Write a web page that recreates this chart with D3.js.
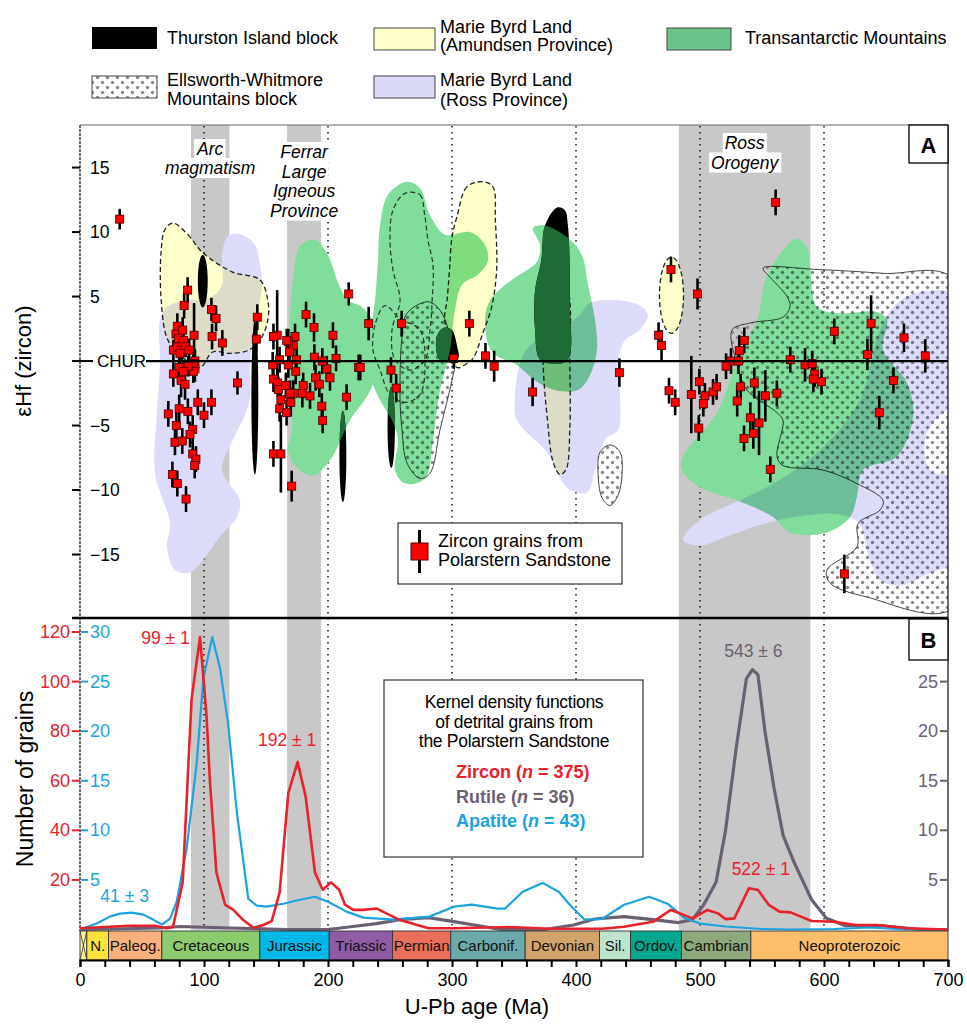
<!DOCTYPE html>
<html>
<head>
<meta charset="utf-8">
<script src="https://cdn.jsdelivr.net/npm/d3@7"></script>
<style>
  body { margin: 0; background: #fff; }
  svg { font-family: "Liberation Sans", Arial, sans-serif; }
</style>
</head>
<body>
<div id="chart"></div>
<script>
// ---- data ----
// zircon Hf points: [U-Pb age (Ma), eHf, error]
const zirconHf = [
  [32,11.0,0.8],
  [86.8,5.5,1.0],[84,4.3,1.0],[106,4.0,0.9],[109.7,3.3,1.0],[106.5,1.9,1.0],[114.8,1.4,1.0],
  [78.5,2.7,1.0],[77.4,2.1,0.9],[82.8,2.4,1.0],[92,2.0,2.5],[79.3,1.75,0.9],[83.5,1.6,1.0],
  [75.3,0.85,0.8],[78.5,1.1,0.8],[82,0.85,0.9],[85,1.1,0.8],[88,0.85,0.9],[80.6,0.6,0.8],[92.7,0,0.9],
  [80,-0.5,1.0],[92.7,-0.6,1.0],[91.4,-0.8,0.9],[91.4,-0.2,0.9],[87.3,-0.4,0.8],[83.3,-0.8,0.9],
  [75.3,-1.0,1.0],[81.5,-1.5,1.3],[84.7,-1.8,1.2],[127,-1.7,0.9],
  [95,-3.2,1.0],[106,-3.2,1.0],[100,-4.2,1.0],[71.2,-4.1,1.0],[80,-3.7,1.1],[87,-3.9,1.0],
  [77.7,-5.0,1.0],[90.9,-5.3,1.1],[88.7,-5.7,1.0],[76.6,-6.3,1.0],[82.5,-6.2,1.0],
  [90.9,-7.2,1.0],[93.5,-7.6,1.0],[92.5,-8.1,1.0],[74.5,-8.8,1.0],[78.5,-9.5,1.0],[85.5,-10.7,1.0],
  [143,3.4,1.0],[142.2,1.7,1.0],[182.3,3.6,1.0],[188.7,2.6,1.1],[159,2.0,3.5],[156,1.9,1.0],
  [173.4,1.9,1.0],[172,1.2,1.0],[169,0.7,1.0],[168,1.5,1.0],[166.7,1.6,0.9],[174.7,0.1,1.0],
  [204,2.0,1.0],[216.7,5.2,0.9],
  [156,-1.4,1.0],[159.4,-1.7,1.1],[160,-2.2,1.0],[166,-1.9,1.0],[180,-1.9,1.0],[179.3,-2.5,1.1],
  [172,-2.5,1.0],[169.4,-2.5,1.0],[185.5,-2.7,1.0],[162,-3.0,1.0],[170,-3.2,1.1],[161,-3.7,1.0],[166.6,-4.0,1.0],
  [174,-0.8,1.0],[155.4,-0.3,1.0],[161,0.1,1.0],[168,-0.3,1.0],[190,-1.3,1.0],[193,-1.8,1.0],
  [199,-0.6,1.0],[201.6,-1.3,1.0],[195,-3.5,1.0],[195.7,-4.6,1.0],
  [156,-7.2,1.0],[162,-7.2,3.0],[170.7,-9.7,1.2],[189,0.3,1.0],[195.4,0,1.0],[206.5,0.2,1.0],[215,-2.8,1.0],[224.7,-0.5,1.0],
  [226,-0.5,1.0],[232.8,2.9,1.3],[250.8,-0.7,1.0],[255,-2.1,1.1],[259.4,2.9,1.0],[301.4,0.2,0.8],
  [314,2.9,1.0],[327,0.4,1.0],[334,-0.4,1.2],[365,-2.4,1.1],[435,-0.9,1.1],
  [466.6,2.0,1.0],[469,1.2,1.2],[476.6,7.1,1.0],[475,-2.3,1.0],[480,-3.2,1.0],[498,5.2,1.2],[561,12.3,1.0],
  [535.7,1.6,1.0],[531.7,0.8,1.2],[525,0,1.0],[531,0,1.0],[521,-0.4,1.0],
  [608.3,2.3,1.0],[638,2.9,2.2],[635,0.5,1.2],[664.5,1.8,1.1],[681.7,0.4,1.3],
  [572.8,0.1,1.0],[584.7,-0.3,1.3],[590.5,-0.2,1.0],[592.5,-1.0,1.0],[591.4,-1.4,1.0],[598,-1.6,1.0],
  [493,-2.6,3.0],[499.5,-1.6,1.0],[504,-2.7,1.0],[502.7,-3.3,1.0],[510.5,-2.4,1.0],[513.4,-2.0,1.0],[499,-5.2,1.0],
  [532.8,-2.0,1.0],[530,-3.1,1.2],[543.8,-1.7,1.2],[552.7,-2.7,2.0],[562,-2.5,1.0],[540.6,-4.4,1.2],
  [547.6,-4.8,2.5],[543,-5.6,1.2],[535.5,-6.0,1.0],[556.7,-8.4,1.0],
  [656,-1.5,1.0],[644.6,-4.0,1.3],[616.4,-16.5,1.5]
];

// source-field outlines [age, eHf]
const amundsenBlobs = [
  [[75,10.7],[87,9.8],[99,8.4],[123,6.9],[145,6.3],[151.5,4.7],[151.5,3.2],[145,1.6],[135,0.8],[121,0.6],[107,0.7],[97,-0.5],[85,0.1],[71,1.6],[65.5,4.7],[65.5,8.6],[68.5,10.2]],
  [[325,13.9],[312,13.5],[304,11.2],[300,9.6],[298,7.1],[296,4.7],[294,3.2],[300,1.2],[304,-0.5],[312,-0.2],[317,0.2],[325,2.2],[332,4.2],[336,7.1],[335,10.9],[333,13.5]],
  [[375,5.5],[373.4,0.1],[377,-4.6],[381.5,-7.8],[387,-8.8],[392,-8.4],[395,-5.3],[395,0],[393.5,5.5],[384,7]]
];
const amundsenEllipses = [[477,5.1,9.7,2.95]];
const amundsenOutlines = [
  [[262,13.0],[274,12.9],[278,11.3],[280.6,9.4],[284.7,7.4],[284,4.7],[282.3,2.4],[278.2,0.1],[266.1,-0.7],[254,0.1],[251.6,2.4],[258.1,4.7],[252.4,7.05],[250,9.4],[252.4,11.7]],
  [[246,4.3],[258,3.3],[274.2,2.4],[278.2,0.1],[274.2,-2.6],[262.1,-3.2],[250,-2.6],[242,-0.7],[236.3,0.85],[237.9,2.8]]
];
const rossBlobs = [
  [[119.4,9.7],[130.6,9.8],[141.1,9.0],[145.2,7.4],[146.8,5.9],[143.5,3.95],[138.7,1.6],[137.1,-0.7],[137.1,-2.8],[133.1,-4.2],[123.4,-6.1],[114.5,-8.45],[129,-10.8],[126.6,-12.1],[112.9,-13.6],[96.8,-15.7],[88.7,-16.4],[76.6,-16.2],[70.2,-14.4],[72.6,-12.6],[60.5,-8.7],[62.1,-4.0],[64.5,-0.2],[64.5,3.2],[70.2,4.2],[84.7,4.7],[104.8,4.9],[114.5,5.9],[114.5,8.2]],
  [[411.3,4.5],[435.5,4.7],[451.6,4.3],[458,3.6],[451.6,2.4],[439.5,1.6],[433.9,0.1],[435.5,-2.8],[433.9,-5.35],[423.4,-6.1],[415.3,-8.45],[408.9,-10.2],[392.7,-9.8],[376.6,-7.1],[352.4,-4.6],[350.8,-2.8],[354.8,-0.2],[362.9,1.2],[387.1,2.4],[403.2,3.6]],
  [[486.3,-13.9],[500,-12.3],[532.3,-10.8],[564.5,-9.2],[596.8,-6.9],[629,-3.0],[645.2,2.4],[661.3,4.7],[689.5,5.5],[705,5.1],[705,-3.0],[689.5,-4.6],[681.5,-6.1],[685.5,-8.45],[705,-9.2],[705,-15.4],[681.5,-16.6],[661.3,-17.4],[645.2,-17.0],[635.5,-15.0],[629,-12.7],[612.9,-11.9],[564.5,-12.3],[524.2,-13.5],[500,-14.3]]
];
const tamBlobs = [
  [[177.4,8.9],[189.5,9.4],[200,8.2],[208,6.1],[216.1,4.7],[225.8,4.3],[235.5,3.3],[241.9,1.6],[240.3,-0.7],[232.3,-2.6],[217.7,-4.6],[201.6,-7.7],[187.1,-8.9],[173.4,-8.1],[167.7,-6.9],[171,-5.35],[169.4,-1.5],[169.4,3.2],[171.8,6.3]],
  [[263.7,13.9],[274.2,13.4],[282.3,11.3],[294.4,9.8],[314.5,10],[326.6,9.0],[329,7.8],[321,6.7],[308,5.9],[302.4,3.95],[298.4,0.85],[290.3,-2.25],[284.7,-6.1],[278.2,-9.1],[262.1,-9.5],[254,-8.45],[256.5,-6.1],[251.6,-4.6],[241.9,-3.0],[235.5,-1.5],[233.9,1.6],[237.9,4.7],[240.3,7.8],[241.9,10.5],[248.4,12.9]],
  [[365.3,10.3],[375,10.5],[395.2,9.4],[404.8,8.2],[409.7,5.9],[415.3,3.2],[416.9,0.85],[411.3,-1.1],[401.6,-2.25],[383,-2.25],[366.9,-1.5],[352.4,-0.3],[332.3,0.7],[326.6,3.2],[330.6,4.7],[342.7,5.9],[354.8,6.7],[368.5,7.7],[371,9.0]],
  [[578.2,9.5],[554.8,6.8],[546,3.2],[532.3,0.6],[524.2,-1.5],[513.7,-4.0],[486.3,-7.4],[485.5,-8.45],[500,-9.8],[529.8,-10.8],[558.9,-12.1],[572.6,-13.3],[602.4,-13.3],[621,-12.1],[626.6,-10.5],[631.5,-8.45],[658.9,-7.4],[671.8,-4.3],[667,-1.7],[647.6,0.85],[650.8,3.2],[642.7,3.8],[610.5,3.7],[594.4,4.2],[588.7,7.3],[586.3,8.8]]
];
const thurstonEllipses = [[99,6.2,4,2.05],[141,-2.8,2.8,6.0],[212,-7.4,2.8,3.55],[251,-5.15,3.0,3.15]];
const thurstonBlobs = [
  [[294,2.6],[300,2.4],[304,1.2],[305,0.2],[298,-0.1],[290,0.1],[287,1.2],[289,2.2]],
  [[384.7,11.9],[375,10.5],[372,7.8],[367,5.5],[367,2.4],[371,0.1],[383,-0.2],[393.5,0.1],[395,4.7],[393.5,10.5],[391,11.7]]
];
const ellsworthBlobs = [
  [[280.6,4.6],[290.3,3.95],[298.4,2.0],[302.4,-0.2],[300,-1.5],[290.3,-5.35],[282.3,-8.7],[274.2,-9.1],[263.7,-7.9],[259.7,-5.35],[258.1,-2.8],[259.7,1.9],[263.7,3.7]],
  [[427.4,-6.5],[435.5,-7.05],[437.1,-8.8],[433.9,-10.4],[427.4,-11.2],[421,-10.6],[417.7,-8.45],[419.4,-7.05]],
  [[550.8,7.2],[594.4,7.1],[647.6,6.8],[705,6.3],[705,-19.1],[634.7,-18.3],[604.8,-17.2],[602.4,-16.2],[626.6,-14.4],[627.4,-12.6],[645.2,-11.55],[647.6,-10.8],[626.6,-9.5],[599.2,-8.45],[566.9,-8.1],[562.1,-7.4],[566.9,-4.6],[562.1,-4.0],[537.9,-2.25],[529.8,-0.2],[525.8,2.4],[540.3,2.95],[566.9,3.4],[572.6,4.2],[570.2,5.0],[556.5,6.5]]
];

// event bands (Ma)
const bandRanges = [[89.5,120.5],[167,194.5],[483,589]];
const bandLabels = [["Arc","magmatism"],["Ferrar","Large","Igneous","Province"],["Ross","Orogeny"]];

// kernel density curves [age, grains]
const zirconKde = [[0,0.5],[20,1],[40,1.5],[60,1.5],[70,0.5],[75,1.1],[82.8,19],[90,93],[96.8,118],[102,86.5],[104.8,59.6],[110,23],[117,10],[123.4,8],[131.7,3.8],[139.8,0.7],[147.8,1.8],[154.6,3.4],[161,15],[168,55],[175.5,67.6],[182,53.5],[189.5,23],[195.7,16],[202.4,19],[209,16],[213.7,10],[220.4,7.9],[228.5,7.9],[239,8.5],[247,6.5],[258,3.8],[281,0.5],[301.6,0.5],[345.6,1.0],[380,0.3],[421,0.3],[438.7,1.1],[462,3.1],[476.6,7.9],[494,4.5],[506,7.9],[514.5,6.5],[520.5,4.2],[527.7,4.5],[539.4,16.6],[546.8,15.9],[555.5,9.9],[564,7.2],[573,6.9],[590,3.4],[608,3.1],[625.4,1.8],[643,1.8],[666,0.5],[700,0]];
const apatiteKde = [[0,0],[13.4,0.6],[24,1.3],[32,1.6],[41.7,1.7],[51,1.5],[59,1.0],[66,0.5],[72.6,1.1],[78,2.8],[86,8.2],[94,16.6],[99.5,25.3],[106.7,29.5],[113,26.3],[119.6,20.6],[126.4,11.9],[135.7,3.1],[142.5,2.4],[150.5,2.3],[164,2.6],[177.4,3.0],[189.5,3.3],[200,2.8],[215,1.8],[228.5,1.2],[252.7,1.0],[281.5,1.3],[301.6,2.3],[316,2.5],[336.8,2.1],[342.6,2.1],[357,3.8],[373,4.7],[386,3.8],[395,2.5],[406.8,1.0],[421,1.06],[438.7,2.5],[459,3.3],[473.8,2.6],[488,1.13],[500,0.6],[520.5,0.3],[549.6,0.05],[573,0],[608,0.05],[637,0.2],[666,0],[700,0]];
const rutileKde = [[0,0],[24,0.05],[64.5,0.15],[80.6,0.3],[121,0.15],[166.7,0],[200,0],[220,0.3],[239,0.6],[258,1.0],[281,1.2],[301.6,0.8],[339.5,0],[374.7,0],[398,0.45],[415,1.06],[438.7,1.3],[462,1.0],[482.6,0.7],[494,1.0],[503,2.5],[513,4.8],[520.5,9.9],[529.2,18.3],[537.4,25.3],[542.3,26.2],[546.7,25.7],[552.5,19.9],[559.8,14.2],[567,9.5],[575.8,6.8],[590,3.0],[602,1.13],[616.7,0.4],[645.8,0.4],[678,0],[700,0]];

const peakLabels = [
  { text: "99 ± 1", age: 69, val: 115, series: "zircon" },
  { text: "109 ± 2", age: 162, val: 115, series: "apatite" },
  { text: "192 ± 1", age: 167, val: 74, series: "zircon" },
  { text: "41 ± 3", age: 36, val: 2.8, series: "apatite" },
  { text: "543 ± 6", age: 543, val: 27.5, series: "rutile" },
  { text: "522 ± 1", age: 549, val: 22, series: "zircon" }
];

// geological time scale
const periodNames = ["", "N.", "Paleog.", "Cretaceous", "Jurassic", "Triassic", "Permian", "Carbonif.", "Devonian", "Sil.", "Ordov.", "Cambrian", "Neoproterozoic"];
const periodBounds = [0, 5.5, 23, 66, 145, 201, 252, 299, 359, 419, 444, 485, 541, 700];
const periodColors = ["#FFF49A","#FFE23C","#F9B07D","#8CCB6E","#00B8E6","#8E5BA4","#EB705C","#6BA9AA","#D3A36C","#BDE4CF","#00A78C","#8EA97B","#FDBE6C"];

const ageTicks = [0,100,200,300,400,500,600,700];
const hfTicks = [-15,-10,-5,5,10,15];
const zrTicks = [20,40,60,80,100,120];
const apTicks = [5,10,15,20,25,30];
const ruTicks = [5,10,15,20,25];

// ---- colours ----
const RED = "#E8212B", BLUE = "#1BA3E0", GREYP = "#6B6073";
const GREEN = "#80DD9C", LAV = "#DCDCFA", YEL = "#FFFFCC";

const W = 967, H = 1024;
const svg = d3.select("#chart").append("svg").attr("width", W).attr("height", H);

const x = d3.scaleLinear().domain([0, 700]).range([80, 948]);
const yA = d3.scaleLinear().domain([-20, 18.3]).range([619, 125]);
const yZr = d3.scaleLinear().domain([0, 120]).range([929.5, 632]);
const yAp = d3.scaleLinear().domain([0, 30]).range([929.5, 632]);

const defs = svg.append("defs");
const pat = defs.append("pattern").attr("id", "dots").attr("patternUnits", "userSpaceOnUse")
  .attr("width", 10).attr("height", 10);
pat.append("circle").attr("cx", 2.5).attr("cy", 2.5).attr("r", 1.7).attr("fill", "#8a8a8a");
pat.append("circle").attr("cx", 7.5).attr("cy", 7.5).attr("r", 1.7).attr("fill", "#8a8a8a");
defs.append("clipPath").attr("id", "clipA").append("rect")
  .attr("x", 80).attr("y", 125).attr("width", 868).attr("height", 493);

const blob = d3.line().x(d => x(d[0])).y(d => yA(d[1])).curve(d3.curveCatmullRomClosed.alpha(0.5));

const greenClip = defs.append("clipPath").attr("id", "greenClip");
tamBlobs.forEach(b => greenClip.append("path").attr("d", blob(b)));

// grey event bands
svg.selectAll(".band").data(bandRanges).enter().append("rect")
  .attr("x", d => x(d[0])).attr("width", d => x(d[1]) - x(d[0]))
  .attr("y", 125).attr("height", 930 - 125).attr("fill", "#C8C8C8");

// dotted age guides
svg.selectAll(".guide").data([100,200,300,400,500,600]).enter().append("line")
  .attr("x1", d => x(d)).attr("x2", d => x(d)).attr("y1", 126).attr("y2", 930)
  .attr("stroke", "#222").attr("stroke-width", 1.6).attr("stroke-dasharray", "1.6,4.4");

// ---- panel A fields ----
const gA = svg.append("g").attr("clip-path", "url(#clipA)");

gA.selectAll(".ew").data(ellsworthBlobs).enter().append("path")
  .attr("d", blob).attr("fill", "url(#dots)").attr("stroke", "#333").attr("stroke-width", 0.9);

const gY = gA.append("g").style("mix-blend-mode", "multiply");
gY.selectAll(".am").data(amundsenBlobs).enter().append("path")
  .attr("d", blob).attr("fill", YEL).attr("stroke", "#222").attr("stroke-width", 1.3).attr("stroke-dasharray", "5,3");
gY.selectAll(".ame").data(amundsenEllipses).enter().append("ellipse")
  .attr("cx", d => x(d[0])).attr("cy", d => yA(d[1]))
  .attr("rx", d => x(d[0] + d[2]) - x(d[0])).attr("ry", d => yA(d[1] - d[3]) - yA(d[1]))
  .attr("fill", YEL).attr("stroke", "#222").attr("stroke-width", 1.3).attr("stroke-dasharray", "5,3");
gY.selectAll(".amo").data(amundsenOutlines).enter().append("path")
  .attr("d", blob).attr("fill", "none").attr("stroke", "#444").attr("stroke-width", 1.2).attr("stroke-dasharray", "5,3");

const gL = gA.append("g").style("mix-blend-mode", "multiply");
gL.selectAll(".ross").data(rossBlobs).enter().append("path").attr("d", blob).attr("fill", LAV);

function drawThurston(g, fill) {
  g.selectAll(".te").data(thurstonEllipses).enter().append("ellipse")
    .attr("cx", d => x(d[0])).attr("cy", d => yA(d[1]))
    .attr("rx", d => x(d[0] + d[2]) - x(d[0])).attr("ry", d => yA(d[1] - d[3]) - yA(d[1]))
    .attr("fill", fill);
  g.selectAll(".tb").data(thurstonBlobs).enter().append("path").attr("d", blob).attr("fill", fill);
}
drawThurston(gA.append("g"), "#000");

const gG = gA.append("g").style("mix-blend-mode", "multiply");
gG.selectAll(".tam").data(tamBlobs).enter().append("path").attr("d", blob).attr("fill", GREEN);

drawThurston(gA.append("g").attr("clip-path", "url(#greenClip)"), "#1F6B35");

// CHUR reference line
svg.append("line").attr("x1", 146).attr("x2", 948).attr("y1", yA(0)).attr("y2", yA(0))
  .attr("stroke", "#000").attr("stroke-width", 2.2);
svg.append("line").attr("x1", 72).attr("x2", 93).attr("y1", yA(0)).attr("y2", yA(0))
  .attr("stroke", "#000").attr("stroke-width", 2);
svg.append("text").attr("x", 97).attr("y", yA(0) + 6).attr("font-size", 17).text("CHUR");

// zircon points with error bars
const gP = gA.append("g");
gP.selectAll(".err").data(zirconHf).enter().append("line")
  .attr("x1", d => x(d[0])).attr("x2", d => x(d[0]))
  .attr("y1", d => yA(d[1] + d[2])).attr("y2", d => yA(d[1] - d[2]))
  .attr("stroke", "#000").attr("stroke-width", 2.6);
gP.selectAll(".pt").data(zirconHf).enter().append("rect")
  .attr("x", d => x(d[0]) - 4).attr("y", d => yA(d[1]) - 4)
  .attr("width", 8).attr("height", 8)
  .attr("fill", "#FF0000").attr("stroke", "#5a0000").attr("stroke-width", 0.9);

// band labels on white boxes
function boxedText(xc, yb, str, size) {
  const t = svg.append("text").attr("x", xc).attr("y", yb).attr("text-anchor", "middle")
    .attr("font-style", "italic").attr("font-size", size).text(str);
  const b = t.node().getBBox();
  svg.insert("rect", () => t.node()).attr("x", b.x - 2).attr("y", b.y).attr("width", b.width + 4)
    .attr("height", b.height).attr("fill", "#fff");
}
const labelTops = [[155, 19], [158, 19.5], [149, 19.5]];
bandLabels.forEach((lines, i) => {
  const xc = x((bandRanges[i][0] + bandRanges[i][1]) / 2);
  lines.forEach((s, j) => boxedText(xc, labelTops[i][0] + j * labelTops[i][1], s, 17.5));
});

// panel A axis
svg.append("line").attr("x1", 80).attr("x2", 80).attr("y1", 125).attr("y2", 931)
  .attr("stroke", "#222").attr("stroke-width", 1.3).attr("stroke-dasharray", "3,1");
svg.append("line").attr("x1", 80).attr("x2", 948).attr("y1", 125).attr("y2", 125)
  .attr("stroke", "#666").attr("stroke-width", 1.2);
svg.append("line").attr("x1", 948).attr("x2", 948).attr("y1", 125).attr("y2", 931)
  .attr("stroke", "#222").attr("stroke-width", 1.3);
svg.selectAll(".hft").data(hfTicks).enter().append("line")
  .attr("x1", 72).attr("x2", 80).attr("y1", d => yA(d)).attr("y2", d => yA(d))
  .attr("stroke", "#000").attr("stroke-width", 2);
svg.selectAll(".hfl").data(hfTicks).enter().append("text")
  .attr("x", 90).attr("y", d => yA(d) + 6).attr("font-size", 17.5)
  .text(d => d < 0 ? "\u2212" + Math.abs(d) : d);
svg.append("text").attr("transform", "translate(31," + yA(0) + ") rotate(-90)")
  .attr("text-anchor", "middle").attr("font-size", 22).text("εHf (zircon)");

// "A" tag
svg.append("rect").attr("x", 909).attr("y", 125).attr("width", 39).attr("height", 38)
  .attr("fill", "#fff").attr("stroke", "#000").attr("stroke-width", 1.3);
svg.append("text").attr("x", 928.5).attr("y", 153).attr("text-anchor", "middle")
  .attr("font-size", 22).attr("font-weight", "bold").text("A");

// zircon legend box
svg.append("rect").attr("x", 398).attr("y", 523).attr("width", 224).attr("height", 61)
  .attr("fill", "#fff").attr("stroke", "#333").attr("stroke-width", 1.2);
svg.append("line").attr("x1", 419.5).attr("x2", 419.5).attr("y1", 530).attr("y2", 573)
  .attr("stroke", "#000").attr("stroke-width", 3);
svg.append("rect").attr("x", 411).attr("y", 543).attr("width", 17).attr("height", 17)
  .attr("fill", "#FF0000").attr("stroke", "#5a0000").attr("stroke-width", 1);
svg.append("text").attr("x", 438).attr("y", 547).attr("font-size", 18).text("Zircon grains from");
svg.append("text").attr("x", 438).attr("y", 566).attr("font-size", 18).text("Polarstern Sandstone");

// ---- panel B ----
const gB = svg.append("g");
const kde = (sc) => d3.line().x(d => x(d[0])).y(d => sc(d[1]));
gB.append("path").datum(rutileKde).attr("d", kde(yAp)).attr("fill", "none")
  .attr("stroke", GREYP).attr("stroke-width", 3.2).attr("stroke-linejoin", "round");
gB.append("path").datum(apatiteKde).attr("d", kde(yAp)).attr("fill", "none")
  .attr("stroke", BLUE).attr("stroke-width", 2.2).attr("stroke-linejoin", "round");
gB.append("path").datum(zirconKde).attr("d", kde(yZr)).attr("fill", "none")
  .attr("stroke", RED).attr("stroke-width", 2.6).attr("stroke-linejoin", "round");

const seriesColor = { zircon: RED, apatite: BLUE, rutile: GREYP };
const seriesScale = { zircon: yZr, apatite: yAp, rutile: yAp };
gB.selectAll(".pk").data(peakLabels).enter().append("text")
  .attr("x", d => x(d.age)).attr("y", d => seriesScale[d.series](d.val))
  .attr("text-anchor", "middle").attr("font-size", 17.5)
  .attr("fill", d => seriesColor[d.series]).text(d => d.text);

// divider
svg.append("line").attr("x1", 72).attr("x2", 948).attr("y1", 618).attr("y2", 618)
  .attr("stroke", "#000").attr("stroke-width", 2.6);

// left axes of panel B
svg.selectAll(".zrt").data(zrTicks).enter().append("line")
  .attr("x1", 72).attr("x2", 80).attr("y1", d => yZr(d)).attr("y2", d => yZr(d))
  .attr("stroke", RED).attr("stroke-width", 2);
svg.selectAll(".zrl").data(zrTicks).enter().append("text")
  .attr("x", 70).attr("y", d => yZr(d) + 6).attr("text-anchor", "end").attr("font-size", 18)
  .attr("fill", RED).text(d => d);
svg.selectAll(".apt").data(apTicks).enter().append("line")
  .attr("x1", 81).attr("x2", 88).attr("y1", d => yAp(d)).attr("y2", d => yAp(d))
  .attr("stroke", BLUE).attr("stroke-width", 2);
svg.selectAll(".apl").data(apTicks).enter().append("text")
  .attr("x", 90).attr("y", d => yAp(d) + 6).attr("font-size", 18)
  .attr("fill", BLUE).text(d => d);
svg.append("text").attr("transform", "translate(33,779) rotate(-90)")
  .attr("text-anchor", "middle").attr("font-size", 23).text("Number of grains");

// right axis (rutile)
svg.selectAll(".rut").data(ruTicks).enter().append("line")
  .attr("x1", 940).attr("x2", 948).attr("y1", d => yAp(d)).attr("y2", d => yAp(d))
  .attr("stroke", GREYP).attr("stroke-width", 2);
svg.selectAll(".rul").data(ruTicks).enter().append("text")
  .attr("x", 938).attr("y", d => yAp(d) + 6).attr("text-anchor", "end").attr("font-size", 18)
  .attr("fill", GREYP).text(d => d);

// "B" tag
svg.append("rect").attr("x", 909).attr("y", 619).attr("width", 39).attr("height", 41)
  .attr("fill", "#fff").attr("stroke", "#000").attr("stroke-width", 1.3);
svg.append("text").attr("x", 928.5).attr("y", 648).attr("text-anchor", "middle")
  .attr("font-size", 22).attr("font-weight", "bold").text("B");

// KDE legend box
svg.append("rect").attr("x", 384).attr("y", 680).attr("width", 259).attr("height", 177)
  .attr("fill", "#fff").attr("stroke", "#333").attr("stroke-width", 1.2);
["Kernel density functions", "of detrital grains from", "the Polarstern Sandstone"].forEach((s, i) => {
  svg.append("text").attr("x", 514).attr("y", 708 + i * 19.5).attr("text-anchor", "middle")
    .attr("font-size", 17.5).attr("letter-spacing", -0.3).text(s);
});
const kdeLegend = [["Zircon", "375", RED], ["Rutile", "36", GREYP], ["Apatite", "43", BLUE]];
kdeLegend.forEach((d, i) => {
  const t = svg.append("text").attr("x", 456).attr("y", 778 + i * 24.5)
    .attr("font-size", 18).attr("font-weight", "bold").attr("fill", d[2]);
  t.append("tspan").text(d[0] + " (");
  t.append("tspan").attr("font-style", "italic").text("n");
  t.append("tspan").text(" = " + d[1] + ")");
});

// ---- time scale and x axis ----
const periods = periodNames.map((n, i) => ({ name: n, a: periodBounds[i], b: periodBounds[i + 1], c: periodColors[i] }));
const gT = svg.append("g");
gT.selectAll(".per").data(periods).enter().append("rect")
  .attr("x", d => x(d.a)).attr("width", d => x(d.b) - x(d.a))
  .attr("y", 931).attr("height", 29).attr("fill", d => d.c)
  .attr("stroke", "#333").attr("stroke-width", 0.9);
gT.append("path").attr("d", `M${x(0)},931L${x(5.5)},960M${x(5.5)},931L${x(0)},960`)
  .attr("stroke", "#333").attr("stroke-width", 0.8);
gT.selectAll(".pn").data(periods.filter(p => p.name)).enter().append("text")
  .attr("x", d => (x(d.a) + x(d.b)) / 2).attr("y", 951).attr("text-anchor", "middle")
  .attr("font-size", 15).attr("fill", "#111").text(d => d.name);

const xAxis = d3.axisBottom(x).tickValues(d3.range(0, 701, 20)).tickSize(7)
  .tickFormat(d => ageTicks.includes(d) ? d : "");
const gx = svg.append("g").attr("transform", "translate(0,960)").call(xAxis);
gx.select(".domain").attr("stroke", "#000").attr("stroke-width", 2);
gx.selectAll(".tick line").attr("stroke", "#000").attr("stroke-width", 2);
gx.selectAll(".tick text").filter(d => !ageTicks.includes(d)).remove();
gx.selectAll(".tick text").attr("font-size", 18).attr("font-family", "Liberation Sans, Arial, sans-serif")
  .attr("fill", "#000").attr("y", 10).attr("dy", "0.9em");
svg.append("text").attr("x", 477).attr("y", 1014).attr("text-anchor", "middle")
  .attr("font-size", 22).text("U-Pb age (Ma)");

// ---- top legend ----
const lg = svg.append("g");
lg.append("rect").attr("x", 92).attr("y", 27).attr("width", 65).attr("height", 22).attr("fill", "#000");
lg.append("text").attr("x", 167).attr("y", 44).attr("font-size", 18).text("Thurston Island block");
lg.append("rect").attr("x", 374).attr("y", 28).attr("width", 61).attr("height", 22)
  .attr("fill", YEL).attr("stroke", "#444").attr("stroke-width", 1);
lg.append("text").attr("x", 440).attr("y", 33).attr("font-size", 18).text("Marie Byrd Land");
lg.append("text").attr("x", 440).attr("y", 51).attr("font-size", 18).text("(Amundsen Province)");
lg.append("rect").attr("x", 667).attr("y", 28).attr("width", 64).attr("height", 22)
  .attr("fill", "#6BC487").attr("stroke", "#444").attr("stroke-width", 1);
lg.append("text").attr("x", 745).attr("y", 44).attr("font-size", 18).text("Transantarctic Mountains");
lg.append("rect").attr("x", 92).attr("y", 76).attr("width", 65).attr("height", 22)
  .attr("fill", "url(#dots)").attr("stroke", "#444").attr("stroke-width", 1);
lg.append("text").attr("x", 167).attr("y", 86).attr("font-size", 18).text("Ellsworth-Whitmore");
lg.append("text").attr("x", 167).attr("y", 105).attr("font-size", 18).text("Mountains block");
lg.append("rect").attr("x", 374).attr("y", 76).attr("width", 61).attr("height", 22)
  .attr("fill", "#DADAF8").attr("stroke", "#444").attr("stroke-width", 1);
lg.append("text").attr("x", 440).attr("y", 86).attr("font-size", 18).text("Marie Byrd Land");
lg.append("text").attr("x", 440).attr("y", 106).attr("font-size", 18).text("(Ross Province)");
</script>
</body>
</html>
